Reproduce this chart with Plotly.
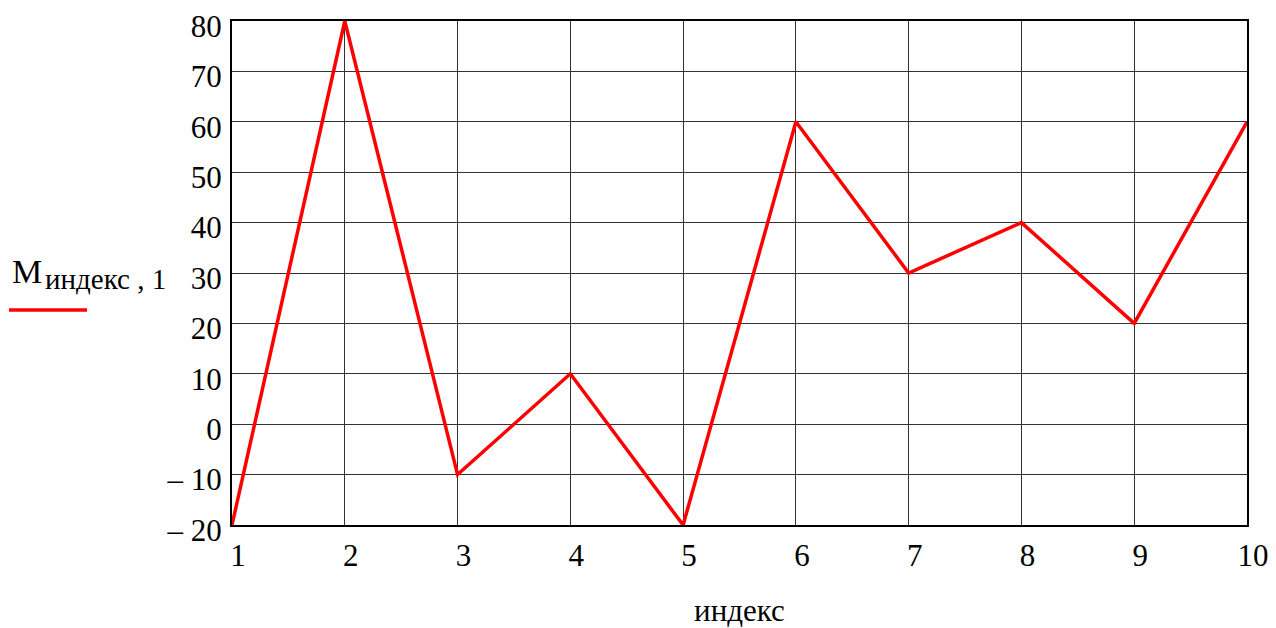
import plotly.graph_objects as go

index = [1, 2, 3, 4, 5, 6, 7, 8, 9, 10]
values = [-20, 80, -10, 10, -20, 60, 30, 40, 20, 60]
y_ticks = [-20, -10, 0, 10, 20, 30, 40, 50, 60, 70, 80]
y_ticktext = ["– 20", "– 10", "0", "10", "20", "30", "40", "50", "60", "70", "80"]

FONT = "Liberation Serif, Times New Roman, serif"
FS = 31

fig = go.Figure()
fig.add_trace(go.Scatter(x=index, y=values, mode="lines",
                         line=dict(color="#ff0000", width=3.5), showlegend=False, cliponaxis=False))

fig.update_layout(
    width=1268, height=620,
    margin=dict(l=224, r=29, t=13, b=103, autoexpand=False),
    plot_bgcolor="white", paper_bgcolor="white",
    font=dict(family=FONT, size=FS, color="black"),
    xaxis=dict(range=[1, 10], tickvals=index, ticktext=[str(i) for i in index],
               showgrid=True, gridcolor="#333333", gridwidth=1,
               showline=True, linecolor="black", linewidth=2, mirror=True,
               zeroline=False, ticks="", ticklabelshift=6, ticklabelstandoff=2,
               automargin=False, ticklabeloverflow="allow",
               title=dict(text="индекс", font=dict(family=FONT, size=FS), standoff=33)),
    yaxis=dict(range=[-20, 80], tickvals=y_ticks, ticktext=y_ticktext,
               showgrid=True, gridcolor="#333333", gridwidth=1,
               showline=True, linecolor="black", linewidth=2, mirror=True,
               zeroline=False, ticks="", ticklabelstandoff=2, ticklabelshift=5,
               automargin=False, ticklabeloverflow="allow"),
)

def px(p):
    return (p - 232) / 1015

def py(q):
    return (525 - q) / 504

fig.add_annotation(xref="paper", yref="paper", x=px(10), y=py(271),
                   xanchor="left", yanchor="middle", showarrow=False,
                   text="M", font=dict(family=FONT, size=34))
fig.add_annotation(xref="paper", yref="paper", x=px(43), y=py(279),
                   xanchor="left", yanchor="middle", showarrow=False,
                   text="индекс , 1", font=dict(family=FONT, size=29))
fig.add_shape(type="line", xref="paper", yref="paper",
              x0=px(9), x1=px(87), y0=py(310), y1=py(310),
              line=dict(color="#ff0000", width=3.5))

fig.write_html("out.html")
